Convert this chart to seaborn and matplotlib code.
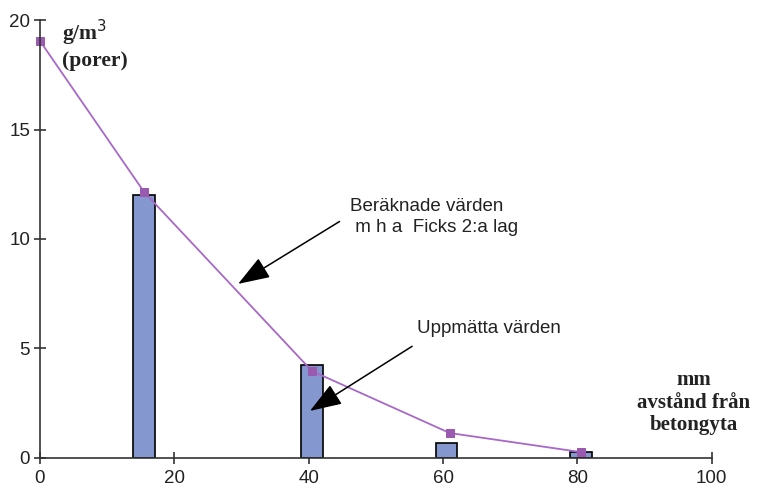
import matplotlib

matplotlib.use("Agg")

import matplotlib.pyplot as plt
import pandas as pd
import seaborn as sns

# measured values (bars)
measured_x = [15.5, 40.5, 60.5, 80.5]
measured_y = [12.0, 4.25, 0.68, 0.28]

# calculated values (line)
calc_x = [0, 15.5, 40.5, 61.0, 80.5]
calc_y = [19.05, 12.15, 3.97, 1.14, 0.27]

x_ticks = [0, 20, 40, 60, 80, 100]
y_ticks = [0, 5, 10, 15, 20]

sns.set_theme(style="ticks")
plt.rcParams["font.family"] = ["Liberation Sans Narrow", "Liberation Sans", "DejaVu Sans"]

bars = pd.DataFrame({"x": measured_x, "y": measured_y})
line = pd.DataFrame({"x": calc_x, "y": calc_y})

fig = plt.figure(figsize=(7.67, 4.88), dpi=100)
ax = fig.add_axes([0.052, 0.0615, 0.876, 0.8975])

sns.barplot(data=bars, x="x", y="y", native_scale=True, width=0.16,
            color="#8497CF", saturation=1, edgecolor="black", linewidth=1.2, ax=ax)
sns.lineplot(data=line, x="x", y="y", color="#A868C8", linewidth=1.3,
             marker="s", markersize=6, markerfacecolor="#9A5AB0",
             markeredgecolor="#9A5AB0", clip_on=False, ax=ax)

ax.set_xlim(0, 100)
ax.set_ylim(0, 20)
ax.set_xticks(x_ticks)
ax.set_yticks(y_ticks)
ax.set_xlabel("")
ax.set_ylabel("")
ax.spines["top"].set_visible(False)
ax.spines["right"].set_visible(False)
for side in ["left", "bottom"]:
    ax.spines[side].set_color("#333333")
    ax.spines[side].set_linewidth(1.2)
ax.tick_params(axis="both", direction="inout", length=8, width=1.2, color="#333333",
               labelsize=13.5, labelcolor="#222222", bottom=True, left=True)
ax.tick_params(axis="x", pad=5)
ax.tick_params(axis="y", pad=3)

serif = ["Liberation Serif", "DejaVu Serif"]
ax.text(3.3, 20.1, "g/m$^3$\n(porer)", family=serif, fontweight="bold", fontsize=15.5,
        va="top", ha="left", color="#222222", linespacing=1.2)
ax.text(97.3, 4.0, "mm\navstånd från\nbetongyta", family=serif, fontweight="bold",
        fontsize=15, va="top", ha="center", color="#222222", linespacing=1.15)

arrow = dict(arrowstyle="-|>,head_length=0.9,head_width=0.32", mutation_scale=22,
             color="black", lw=1.1, shrinkA=0, shrinkB=0)
ax.text(46.1, 11.85, "Beräknade värden\n m h a  Ficks 2:a lag", fontsize=13.5,
        va="top", ha="left", linespacing=1.3, color="#222222")
ax.annotate("", xy=(29.5, 7.95), xytext=(44.6, 10.8), arrowprops=arrow)
ax.text(56.2, 6.3, "Uppmätta värden", fontsize=13.5, va="top", ha="left", color="#222222")
ax.annotate("", xy=(40.2, 2.15), xytext=(55.4, 5.1), arrowprops=arrow)

fig.savefig("out.png", dpi=100)
